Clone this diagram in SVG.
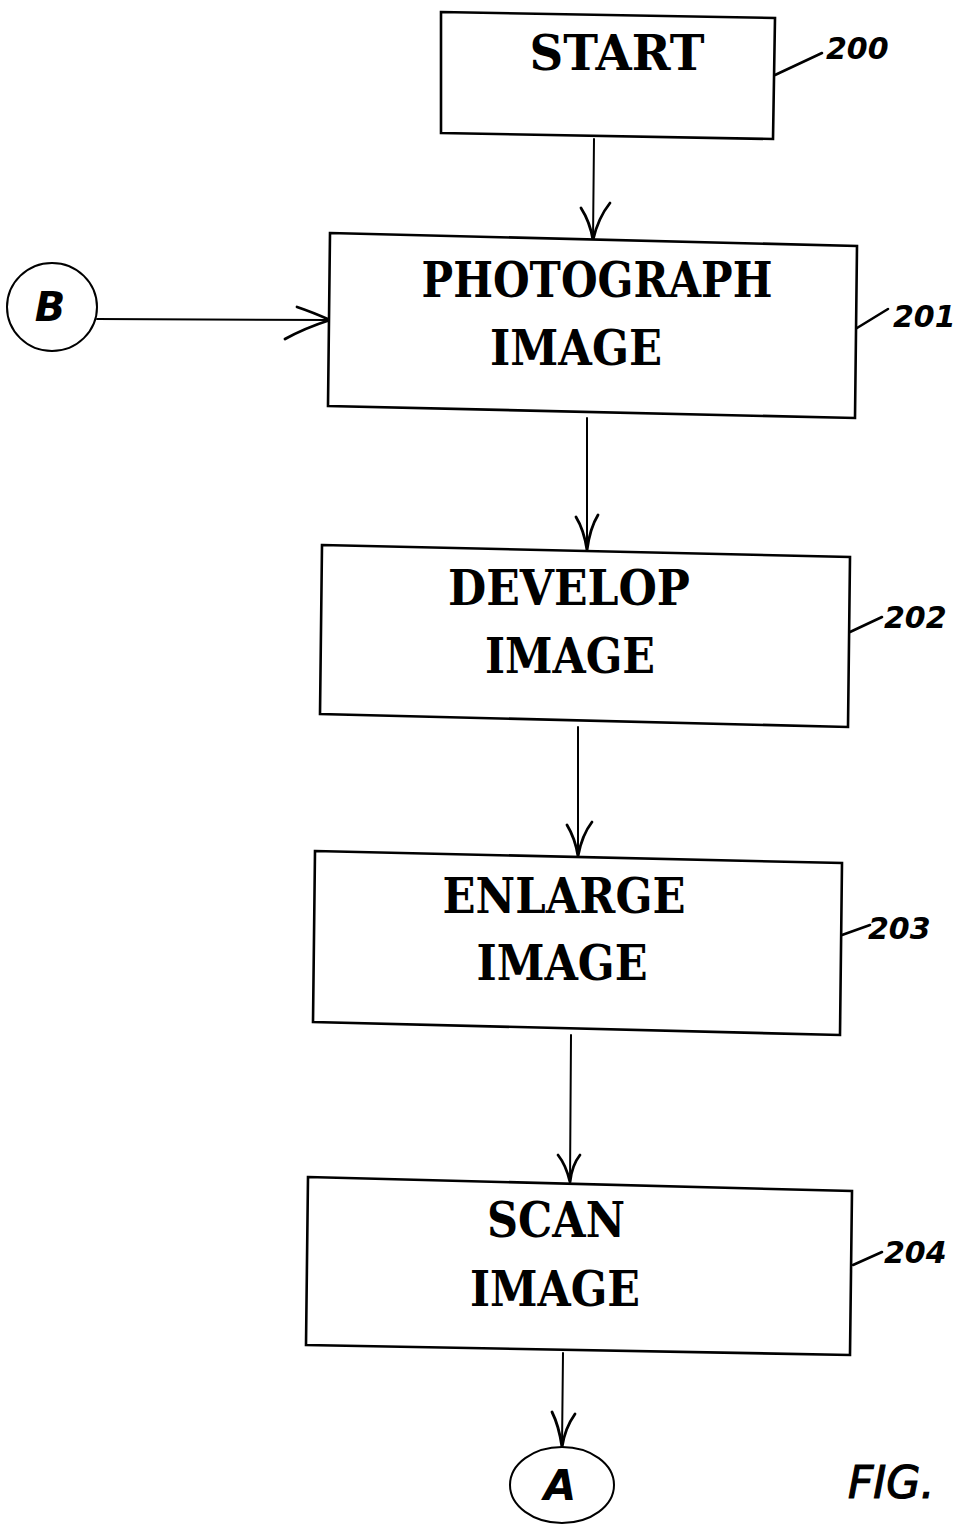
<svg xmlns="http://www.w3.org/2000/svg" width="974" height="1526" viewBox="0 0 974 1526">
  <style>
    .box { fill: #fff; stroke: #000; stroke-width: 2.6; stroke-linejoin: miter; }
    .lbl { font-family: "DejaVu Serif", "Liberation Serif", serif; font-weight: bold; font-size: 49px; fill: #000; text-anchor: middle; }
    .ref { font-family: "DejaVu Sans", sans-serif; font-weight: bold; font-style: italic; font-size: 30px; fill: #000; }
    .lead { fill: none; stroke: #000; stroke-width: 2.6; stroke-linecap: round; }
    .wire { fill: none; stroke: #000; stroke-width: 2; stroke-linecap: round; }
    .head { fill: none; stroke: #000; stroke-width: 2.8; stroke-linecap: round; stroke-linejoin: round; }
    .conn { fill: #fff; stroke: #000; stroke-width: 2; }
    .hand { font-family: "DejaVu Sans", sans-serif; font-weight: bold; font-style: italic; fill: #000; text-anchor: middle; }
  </style>

  <!-- connectors -->
  <g id="connectors">
    <path class="wire" d="M594 139 L593 240"/>
    <path class="head" d="M581 208 Q590 222 593 240 Q598 218 610 203"/>

    <path class="wire" d="M587 418 L587 550"/>
    <path class="head" d="M576 517 Q584 530 587 550 Q590 528 598 515"/>

    <path class="wire" d="M578 727 L578 856"/>
    <path class="head" d="M567 825 Q575 838 578 856 Q582 835 592 822"/>

    <path class="wire" d="M571 1035 L570 1182"/>
    <path class="head" d="M558 1155 Q566 1165 570 1182 Q572 1165 580 1155"/>

    <path class="wire" d="M563 1353 L562 1447"/>
    <path class="head" d="M552 1412 Q559 1426 562 1447 Q565 1428 575 1414"/>

    <path class="wire" d="M97 319 L330 320"/>
    <path class="head" d="M297 307 Q312 312 330 320 Q305 328 285 339"/>
  </g>

  <!-- off-page connector B -->
  <g id="node-B">
    <ellipse class="conn" cx="52" cy="307" rx="45" ry="44"/>
    <text class="hand" x="50" y="321" font-size="40">B</text>
  </g>

  <!-- step 200 -->
  <g id="node-200">
    <polygon class="box" points="441,12 775,18 773,139 441,133"/>
    <text class="lbl" x="617" y="70" textLength="175" lengthAdjust="spacingAndGlyphs">START</text>
    <path class="lead" d="M775 75 L822 53"/>
    <text class="ref" x="826" y="59">200</text>
  </g>

  <!-- step 201 -->
  <g id="node-201">
    <polygon class="box" points="330,233 857,246 855,418 328,406"/>
    <text class="lbl" x="597" y="297" textLength="351" lengthAdjust="spacingAndGlyphs">PHOTOGRAPH</text>
    <text class="lbl" x="576" y="365" textLength="172" lengthAdjust="spacingAndGlyphs">IMAGE</text>
    <path class="lead" d="M857 328 L888 309"/>
    <text class="ref" x="893" y="327">201</text>
  </g>

  <!-- step 202 -->
  <g id="node-202">
    <polygon class="box" points="322,545 850,557 848,727 320,714"/>
    <text class="lbl" x="569" y="605" textLength="242" lengthAdjust="spacingAndGlyphs">DEVELOP</text>
    <text class="lbl" x="570" y="673" textLength="170" lengthAdjust="spacingAndGlyphs">IMAGE</text>
    <path class="lead" d="M850 632 L882 617"/>
    <text class="ref" x="884" y="628">202</text>
  </g>

  <!-- step 203 -->
  <g id="node-203">
    <polygon class="box" points="315,851 842,863 840,1035 313,1022"/>
    <text class="lbl" x="564" y="913" textLength="243" lengthAdjust="spacingAndGlyphs">ENLARGE</text>
    <text class="lbl" x="562" y="980" textLength="171" lengthAdjust="spacingAndGlyphs">IMAGE</text>
    <path class="lead" d="M842 935 L870 925"/>
    <text class="ref" x="868" y="939">203</text>
  </g>

  <!-- step 204 -->
  <g id="node-204">
    <polygon class="box" points="308,1177 852,1191 850,1355 306,1345"/>
    <text class="lbl" x="556" y="1237" textLength="138" lengthAdjust="spacingAndGlyphs">SCAN</text>
    <text class="lbl" x="555" y="1306" textLength="170" lengthAdjust="spacingAndGlyphs">IMAGE</text>
    <path class="lead" d="M853 1265 L882 1252"/>
    <text class="ref" x="884" y="1263">204</text>
  </g>

  <!-- off-page connector A -->
  <g id="node-A">
    <ellipse class="conn" cx="562" cy="1485" rx="52" ry="38"/>
    <text class="hand" x="560" y="1500" font-size="42">A</text>
  </g>

  <!-- figure caption -->
  <g id="caption">
    <text x="848" y="1498" font-family="DejaVu Sans, sans-serif" font-style="italic" font-size="44" fill="#000" stroke="#000" stroke-width="1.2">FIG.</text>
  </g>
</svg>
